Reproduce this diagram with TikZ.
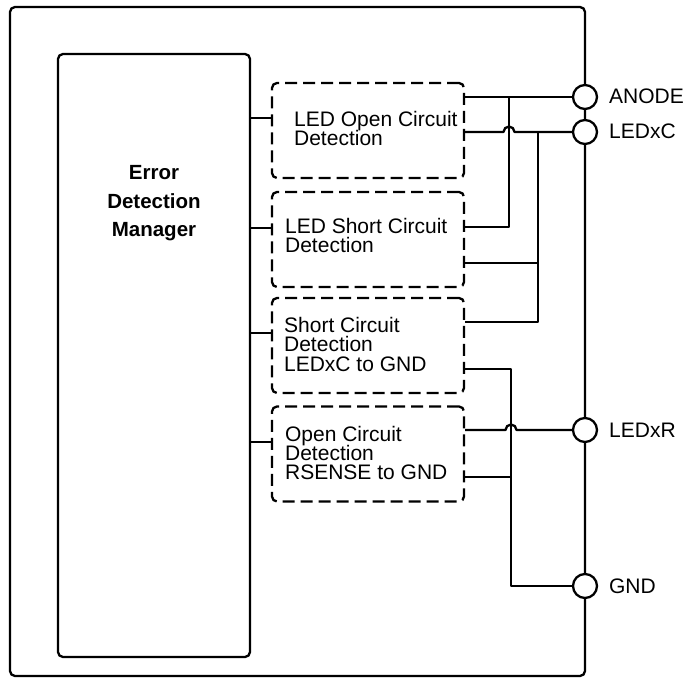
\documentclass[tikz,border=0pt]{standalone}
\usepackage{fontspec}
\setmainfont{Liberation Sans}
\begin{document}
\begin{tikzpicture}[x=1pt,y=-1pt,line width=2.3pt,line join=round,
  txt/.style={inner sep=0pt,anchor=base west,font=\fontsize{21}{19}\selectfont},
  btxt/.style={inner sep=0pt,anchor=base,font=\fontsize{20.5}{19}\selectfont\bfseries},
  plabel/.style={inner sep=0pt,anchor=base west,font=\fontsize{21}{19}\selectfont},
  detbox/.style={draw,rounded corners=5pt,dash pattern=on 12pt off 6pt,minimum width=192pt,minimum height=95pt,inner sep=0pt},
  pin/.style={draw,circle,fill=white,minimum size=24pt,inner sep=0pt}]
\useasboundingbox (0,0) rectangle (683,679);
% outer box
\draw[rounded corners=5pt] (10,7) rectangle (585,676);
% manager
\node[draw,rounded corners=5pt,minimum width=192pt,minimum height=603pt,inner sep=0pt] (mgr) at (154,355.5) {};
\node[btxt] (m1) at (154,180) {Error};
\node[btxt] (m2) at (154,209) {Detection};
\node[btxt] (m3) at (154,237) {Manager};
% detection boxes
\node[detbox] (b1) at (368,130.5) {};
\node[detbox] (b2) at (368,239.5) {};
\node[detbox] (b3) at (368,345.5) {};
\node[detbox] (b4) at (368,454) {};
\node[txt] (t11) at (293,127) {LED Open Circuit};
\node[txt] (t12) at (293,146) {Detection};
\node[txt] (t21) at (284,234) {LED Short Circuit};
\node[txt] (t22) at (284,253) {Detection};
\node[txt] (t31) at (283,332) {Short Circuit};
\node[txt] (t32) at (283,351.5) {Detection};
\node[txt] (t33) at (283,371) {LEDxC to GND};
\node[txt] (t41) at (284,441) {Open Circuit};
\node[txt] (t42) at (284,460) {Detection};
\node[txt] (t43) at (284,479) {RSENSE to GND};
% manager links
\draw (mgr.east |- 0,118) -- (b1.west |- 0,118);
\draw (mgr.east |- 0,228) -- (b2.west |- 0,228);
\draw (mgr.east |- 0,333) -- (b3.west |- 0,333);
\draw (mgr.east |- 0,442) -- (b4.west |- 0,442);
% pins
\node[pin] (pA) at (585,97) {};
\node[pin] (pC) at (585,132) {};
\node[pin] (pR) at (585,430) {};
\node[pin] (pG) at (585,586) {};
\node[plabel] (lA) at (608,104) {ANODE};
\node[plabel] (lC) at (608,139) {LEDxC};
\node[plabel] (lR) at (608,437) {LEDxR};
\node[plabel] (lG) at (608,593) {GND};
% right-side wiring
\draw (b1.east |- 0,97) -- (pA.west);
\draw (b1.east |- 0,132) -- (503.5,132) arc[start angle=180,end angle=0,radius=5.5pt] -- (pC.west);
\draw (b2.east |- 0,227) -- (509,227) -- (509,97);
\draw (b2.east |- 0,263) -- (538,263);
\draw (b3.east |- 0,322) -- (538,322) -- (538,132);
\draw (b3.east |- 0,369) -- (511,369) -- (511,586) -- (pG.west);
\draw (b4.east |- 0,430) -- (505.5,430) arc[start angle=180,end angle=0,radius=5.5pt] -- (pR.west);
\draw (b4.east |- 0,477) -- (511,477);
\end{tikzpicture}
\end{document}
